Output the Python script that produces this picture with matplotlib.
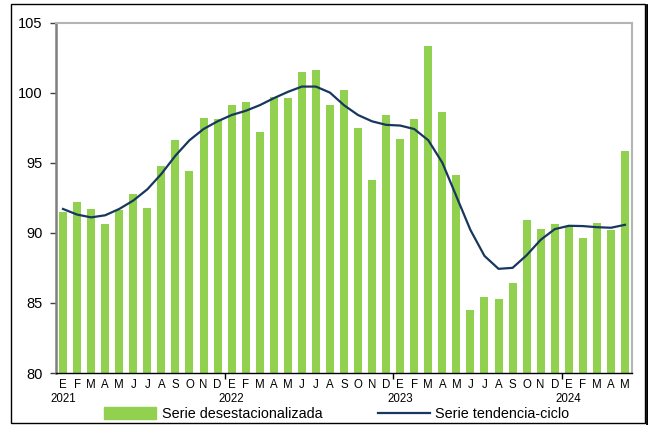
import numpy as np
import matplotlib
matplotlib.use('Agg')
import matplotlib.pyplot as plt
from matplotlib.lines import Line2D
from matplotlib.patches import Rectangle

plt.rcParams['font.family'] = ['Liberation Sans', 'DejaVu Sans']

# Monthly data, Jan 2021 - May 2024
months = ['E', 'F', 'M', 'A', 'M', 'J', 'J', 'A', 'S', 'O', 'N', 'D'] * 3 + ['E', 'F', 'M', 'A', 'M']
years = ['2021', '2022', '2023', '2024']

serie_desest = [91.5, 92.2, 91.7, 90.6, 91.6, 92.8, 91.8, 94.8, 96.6, 94.4, 98.2, 98.1,
                99.1, 99.3, 97.2, 99.7, 99.6, 101.5, 101.6, 99.1, 100.2, 97.5, 93.8, 98.4,
                96.7, 98.1, 103.3, 98.6, 94.1, 84.5, 85.45, 85.3, 86.4, 90.9, 90.3, 90.6,
                90.45, 89.6, 90.7, 90.2, 95.8]

serie_tend = [91.7, 91.3, 91.1, 91.25, 91.7, 92.3, 93.1, 94.2, 95.5, 96.6, 97.4, 97.95,
              98.4, 98.7, 99.1, 99.6, 100.05, 100.43, 100.43, 100.0, 99.1, 98.4, 97.95, 97.7,
              97.65, 97.4, 96.6, 95.0, 92.6, 90.2, 88.35, 87.43, 87.5, 88.4, 89.5, 90.26,
              90.5, 90.48, 90.4, 90.36, 90.57]

x = np.arange(len(serie_desest))

fig = plt.figure(figsize=(6.48, 4.25), dpi=100)
ax = fig.add_axes([56/648, 1 - 373/425, (632 - 56)/648, (373 - 22.5)/425])

ax.bar(x, serie_desest, width=0.57, color='#92D050', zorder=2)
ax.plot(x, serie_tend, color='#17375E', lw=1.6, zorder=3)

ax.set_xlim(-0.5, len(x) - 0.5)
ax.set_ylim(80, 105)
ax.set_yticks(np.arange(80, 106, 5))
ax.tick_params(axis='y', labelsize=10.5, length=4, width=1, color='#404040', pad=5.5)

# year boundaries as major ticks, month letters as minor labels
ax.set_xticks([11.5, 23.5, 35.5])
ax.set_xticklabels([])
ax.tick_params(axis='x', which='major', length=4, width=1, color='black')
ax.set_xticks(x, minor=True)
ax.set_xticklabels(months, minor=True, fontsize=8.3)
ax.tick_params(axis='x', which='minor', length=0, pad=4.5)

trans = ax.get_xaxis_transform()
for k, yr in enumerate(years):
    ax.text(12 * k, -0.074, yr, transform=trans, ha='center', va='center', fontsize=8.3)

ax.spines['left'].set_color('#7F7F7F')
ax.spines['left'].set_linewidth(1.8)
ax.spines['bottom'].set_color('black')
ax.spines['bottom'].set_linewidth(1.0)
for s in ['top', 'right']:
    ax.spines[s].set_color('#B4B4B4')
    ax.spines[s].set_linewidth(1.5)

handles = [Rectangle((0, 0), 1, 1, color='#92D050'),
           Line2D([0], [0], color='#17375E', lw=1.6)]
fig.legend(handles, ['Serie desestacionalizada', 'Serie tendencia-ciclo'],
           loc='center', bbox_to_anchor=(0.52, 1 - 414/425), ncol=2, frameon=False,
           fontsize=10.4, handlelength=3.6, handleheight=0.9, columnspacing=3.8,
           handletextpad=0.4, borderpad=0.1)

# outer frame
fig.patches.append(Rectangle((11/648, 1 - 423/425), (645 - 11)/648, (423 - 4)/425,
                             transform=fig.transFigure, fill=False, ec='black', lw=1.0))
fig.lines.append(Line2D([646.5/648, 646.5/648], [1 - 424/425, 1 - 5/425],
                        transform=fig.transFigure, color='black', lw=2.0))

fig.savefig('out.png', dpi=100)
